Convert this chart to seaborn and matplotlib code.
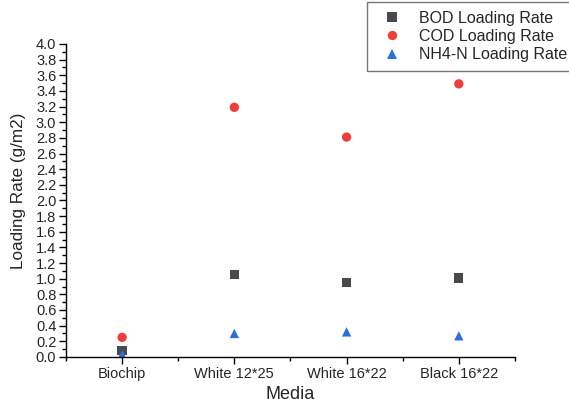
import matplotlib
matplotlib.use("Agg")
import matplotlib.pyplot as plt
import seaborn as sns
import pandas as pd
from matplotlib.ticker import MultipleLocator

media = ["Biochip", "White 12*25", "White 16*22", "Black 16*22"]
bod = [0.08, 1.05, 0.95, 1.01]
cod = [0.25, 3.19, 2.81, 3.49]
nh4 = [0.03, 0.30, 0.32, 0.27]
series = ["BOD Loading Rate", "COD Loading Rate", "NH4-N Loading Rate"]
colors = ["#4a4a4a", "#f23c3c", "#2a6fdb"]
markers = ["s", "o", "^"]

rows = []
for name, vals in zip(series, [bod, cod, nh4]):
    for i, v in enumerate(vals):
        rows.append({"pos": i, "Media": media[i], "value": v, "series": name})
df = pd.DataFrame(rows)

sns.set_theme(style="ticks")
plt.rcParams['font.family'] = ['Liberation Sans', 'DejaVu Sans']

fig = plt.figure(figsize=(5.69, 4.07), dpi=100)
ax = fig.add_axes([0.116, 0.123, 0.789, 0.769])

sns.scatterplot(data=df, x="pos", y="value", hue="series", style="series",
                palette=dict(zip(series, colors)), markers=dict(zip(series, markers)),
                s=45, linewidth=0, ax=ax, legend=True)

ax.set_xlim(-0.5, 3.5)
ax.set_ylim(0, 4.0)
ax.set_xticks(range(len(media)))
ax.set_xticklabels(media, fontsize=10.5)
ax.xaxis.set_minor_locator(MultipleLocator(1.0, offset=0.5))
ax.yaxis.set_major_locator(MultipleLocator(0.2))
ax.yaxis.set_minor_locator(MultipleLocator(0.1))
ax.set_yticklabels([f"{t:.1f}" for t in ax.get_yticks()], fontsize=10.5)
ax.tick_params(axis="both", which="major", direction="out", length=5, width=1, color="black", pad=2)
ax.tick_params(axis="both", which="minor", direction="out", length=3, width=1, color="black")
for s in ["left", "bottom"]:
    ax.spines[s].set_color("black")
    ax.spines[s].set_linewidth(1.0)
sns.despine(ax=ax)
ax.set_xlabel("Media", fontsize=13, labelpad=4)
ax.set_ylabel("Loading Rate (g/m2)", fontsize=12.3)
ax.yaxis.set_label_coords(-0.088, 0.53)

handles, labels = ax.get_legend_handles_labels()
ax.get_legend().remove()
leg = fig.legend(handles, labels, loc="upper left", bbox_to_anchor=(0.645, 0.995),
                 fontsize=11.5, frameon=True, fancybox=False, edgecolor="#555555",
                 labelspacing=0.2, handletextpad=0.7, borderpad=0.55, borderaxespad=0)
leg.get_frame().set_linewidth(1.0)

fig.savefig("out.png", dpi=100)
